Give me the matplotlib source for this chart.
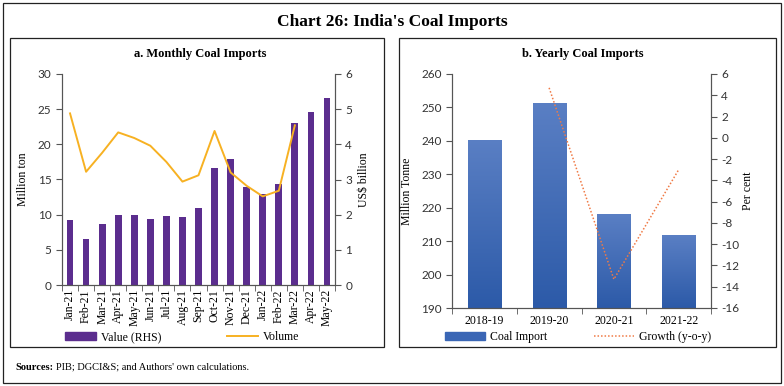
import numpy as np
import matplotlib.pyplot as plt
from matplotlib.patches import Rectangle, Patch
from matplotlib.lines import Line2D
from matplotlib.colors import LinearSegmentedColormap

# ---- data ----
months = ["Jan-21", "Feb-21", "Mar-21", "Apr-21", "May-21", "Jun-21", "Jul-21", "Aug-21",
          "Sep-21", "Oct-21", "Nov-21", "Dec-21", "Jan-22", "Feb-22", "Mar-22", "Apr-22", "May-22"]
value_usd_bn = [1.86, 1.32, 1.74, 2.00, 2.00, 1.88, 1.96, 1.94, 2.18, 3.32, 3.58, 2.80,
                2.60, 2.86, 4.60, 4.92, 5.32]
volume_mt = [24.4, 16.1, 18.8, 21.7, 20.9, 19.8, 17.5, 14.7, 15.6, 21.9, 16.0, 14.1,
             12.6, 13.4, 22.7]

years = ["2018-19", "2019-20", "2020-21", "2021-22"]
coal_import = [240.3, 251.4, 218.0, 211.7]
growth = [np.nan, 4.7, -13.3, -3.0]

serif = "Liberation Serif"
sans = "Lato"
plt.rcParams['font.family'] = serif
plt.rcParams['axes.unicode_minus'] = False

W, H = 784, 386
fig = plt.figure(figsize=(W / 100, H / 100), dpi=100)


def box(x0, y0, x1, y1, lw=0.9):
    fig.patches.append(Rectangle((x0 / W, 1 - y1 / H), (x1 - x0) / W, (y1 - y0) / H,
                                 transform=fig.transFigure, fill=False, ec="#222222", lw=lw))


def axes_px(x0, y0, x1, y1):
    return fig.add_axes([x0 / W, 1 - y1 / H, (x1 - x0) / W, (y1 - y0) / H])


def style_axes(a):
    a.spines["top"].set_visible(False)
    for s in a.spines.values():
        s.set_color("#555555")
        s.set_linewidth(0.8)
    a.tick_params(axis="y", length=4, color="#555555", labelsize=8.5)
    for lab in a.get_yticklabels():
        lab.set_fontfamily(sans)
        lab.set_color("#333333")


box(3, 3, 781, 383)
box(10, 38, 384, 347)
box(399, 38, 776, 347)

fig.text(392 / W, 1 - 22 / H, "Chart 26: India's Coal Imports", ha="center", va="center",
         fontsize=12.5, fontweight="bold")

# ---- a. Monthly ----
ax1 = axes_px(62, 74, 335, 285)
x = np.arange(len(months))
ax1r = ax1.twinx()
ax1r.bar(x, value_usd_bn, width=0.42, color="#5b2d8e", zorder=2)
ax1.plot(np.arange(len(volume_mt)), volume_mt, color="#f7b122", lw=1.4, zorder=3)
ax1.set_zorder(ax1r.get_zorder() + 1)
ax1.patch.set_visible(False)

ax1.set_ylim(0, 30)
ax1.set_yticks(range(0, 31, 5))
ax1r.set_ylim(0, 6)
ax1r.set_yticks(range(0, 7))
ax1.set_xlim(-0.5, len(months) - 0.5)
ax1.set_xticks(x)
ax1.set_xticklabels(months, rotation=90, fontsize=8.5)
ax1.set_xticks(np.arange(-0.5, len(months)), minor=True)
ax1.tick_params(axis="x", which="major", length=0, pad=3)
ax1.tick_params(axis="x", which="minor", length=4, color="#555555")
ax1.set_ylabel("Million ton", fontsize=8.5, labelpad=6)
ax1r.set_ylabel("US$ billion", fontsize=8.5, labelpad=4)
style_axes(ax1)
style_axes(ax1r)

fig.text(200 / W, 1 - 54 / H, "a. Monthly Coal Imports", ha="center", va="center",
         fontsize=9, fontweight="bold")

leg1 = ax1.legend([Patch(color="#5b2d8e"), Line2D([], [], color="#f7b122", lw=1.4)],
                  ["Value (RHS)", "Volume"], loc="center", ncol=2, frameon=False,
                  fontsize=8.5, handlelength=2.6, handleheight=0.6, columnspacing=5.6,
                  handletextpad=0.4)
leg1.set_bbox_to_anchor((182 / W, 1 - 337 / H), transform=fig.transFigure)

# ---- b. Yearly ----
ax2 = axes_px(452, 74, 711, 308)
xb = np.arange(len(years))
bw = 0.51
grad = np.linspace(0, 1, 256).reshape(-1, 1)
bcmap = LinearSegmentedColormap.from_list("b", ["#2c5aa8", "#5a7fc4"])
bars = ax2.bar(xb, coal_import, width=bw, color="none", zorder=2)
for b in bars:
    bx = b.get_x()
    im = ax2.imshow(grad, extent=[bx, bx + bw, 190, b.get_height()], origin="lower",
                    cmap=bcmap, aspect="auto", zorder=2)
    im.set_clip_path(b)
ax2.set_aspect("auto")
ax2.set_xlim(-0.5, len(years) - 0.5)
ax2.set_ylim(190, 260)
ax2.set_yticks(range(190, 261, 10))

ax2r = ax2.twinx()
ax2r.plot(xb, growth, color="#f07a45", lw=1.1, linestyle=(0, (1, 1.3)))
ax2r.set_ylim(-16, 6)
ax2r.set_yticks(range(-16, 7, 2))

ax2.set_xticks(xb)
ax2.set_xticklabels(years, fontsize=8.5)
ax2.set_xticks(np.arange(-0.5, len(years)), minor=True)
ax2.tick_params(axis="x", which="major", length=0, pad=5)
ax2.tick_params(axis="x", which="minor", length=4, color="#555555")
ax2.set_ylabel("Million Tonne", fontsize=8.5, labelpad=6)
ax2r.set_ylabel("Per cent", fontsize=8.5, labelpad=2)
style_axes(ax2)
style_axes(ax2r)

fig.text(583 / W, 1 - 54 / H, "b. Yearly Coal Imports", ha="center", va="center",
         fontsize=9, fontweight="bold")

leg2 = ax2.legend([Patch(color="#3a66b5"),
                   Line2D([], [], color="#f07a45", lw=1.1, linestyle=(0, (1, 1.3)))],
                  ["Coal Import", "Growth (y-o-y)"], loc="center", ncol=2, frameon=False,
                  fontsize=8.5, handlelength=3.4, handleheight=0.6, columnspacing=4.0,
                  handletextpad=0.4)
leg2.set_bbox_to_anchor((578 / W, 1 - 337 / H), transform=fig.transFigure)

# ---- source ----
t1 = fig.text(15 / W, 1 - 367 / H, "Sources:", fontsize=7.5, fontweight="bold", va="center")
fig.canvas.draw()
bb = t1.get_window_extent()
fig.text((bb.x1 + 3) / W, 1 - 367 / H, "PIB; DGCI&S; and Authors' own calculations.",
         fontsize=7.5, va="center")

fig.savefig("out.png", dpi=100)
